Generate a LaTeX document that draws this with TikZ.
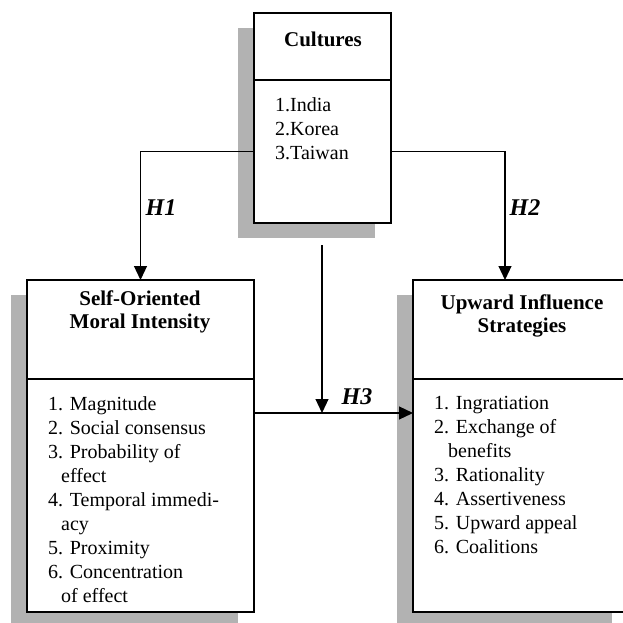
\documentclass[tikz,border=0pt]{standalone}
\usepackage{fontspec}
\setmainfont{Liberation Serif}
\usetikzlibrary{arrows.meta,shadows}

\tikzset{
  boxshadow/.style={drop shadow={shadow xshift=-16pt,shadow yshift=-15pt,fill=gray!60,opacity=1}},
  box/.style={draw,line width=1.3pt,fill=white,inner sep=0pt,outer sep=0pt,boxshadow},
  conn/.style={line width=1.2pt,-{Triangle[length=14pt,width=13pt]}},
  head/.style={font=\fontsize{21}{23}\selectfont\bfseries,align=center,inner sep=0pt},
  items/.style={font=\fontsize{20}{24}\selectfont,align=left,anchor=north west,inner sep=0pt},
  hyp/.style={font=\fontsize{24}{26}\selectfont\bfseries\itshape,inner sep=0pt}
}

\begin{document}
\begin{tikzpicture}[x=1pt,y=-1pt]
  \useasboundingbox (0,0) rectangle (623,623);
  \clip (0,0) rectangle (623,623);

  % Draw the boxes
  \node[box,minimum width=137pt,minimum height=67pt] (cultHead) at (322.5,46.5) {};
  \node[box,minimum width=137pt,minimum height=143pt] (cultBody) at (322.5,151.5) {};
  \node[box,minimum width=227pt,minimum height=99pt] (selfHead) at (140.5,329.5) {};
  \node[box,minimum width=227pt,minimum height=233pt] (selfBody) at (140.5,495.5) {};
  \node[box,minimum width=215pt,minimum height=99pt] (upHead) at (520.5,329.5) {};
  \node[box,minimum width=215pt,minimum height=233pt] (upBody) at (520.5,495.5) {};

  % Titles and lists
  \node[head] (cultTitle) at (323,39) {Cultures};
  \node[head] (selfTitle) at (140,311.5) {Self-Oriented\\Moral Intensity};
  \node[head] (upTitle) at (522,316) {Upward Influence\\Strategies};
  \node[items] (cultList) at (275,97) {1.India\\2.Korea\\3.Taiwan};
  \node[items] (selfList) at (48,396) {1. Magnitude\\2. Social consensus\\3. Probability of\\\hspace*{13pt}effect\\4. Temporal immedi-\\\hspace*{13pt}acy\\5. Proximity\\6. Concentration\\\hspace*{13pt}of effect};
  \node[items] (upList) at (434,396) {1. Ingratiation\\2. Exchange of\\\hspace*{14pt}benefits\\3. Rationality\\4. Assertiveness\\5. Upward appeal\\6. Coalitions};

  % Draw the hypotheses
  \coordinate (h3top) at (322,245);
  \coordinate (h3start) at (254,413);
  \draw[conn] (cultBody.west) -| (selfHead.north);
  \draw[conn] (cultBody.east) -| ([xshift=-15.5pt]upHead.north);
  \draw[conn] (h3start) -- (h3start -| upBody.west);
  \draw[conn] (h3top) -- (h3top |- h3start);
  \node[hyp] (h1) at (161,208) {H1};
  \node[hyp] (h2) at (525,208) {H2};
  \node[hyp] (h3) at (357,397) {H3};
\end{tikzpicture}
\end{document}
